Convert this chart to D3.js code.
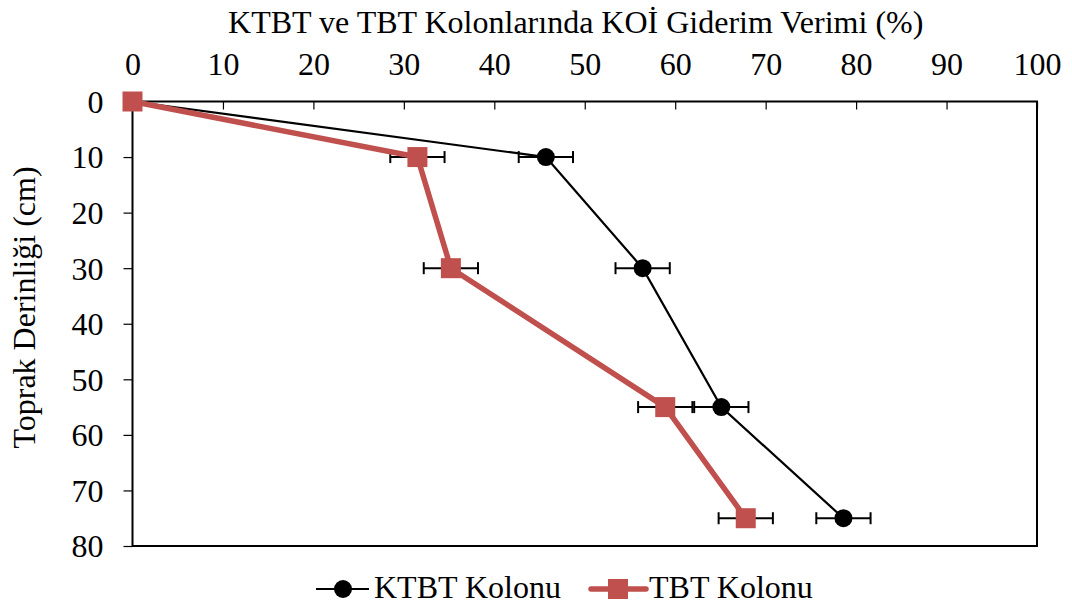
<!DOCTYPE html>
<html>
<head>
<meta charset="utf-8">
<script src="https://cdn.jsdelivr.net/npm/d3@7"></script>
<style>
  html, body { margin: 0; padding: 0; background: #fff; }
</style>
</head>
<body>
<svg id="chart" width="1072" height="608"></svg>
<script>
// Soil depth (cm) and COD removal efficiency (%) for the two columns
const depths = [0, 10, 30, 55, 75];
const ktbtValues = [0, 45.7, 56.4, 65.1, 78.6];
const tbtValues = [0, 31.5, 35.2, 58.9, 67.8];
const ktbtErrors = [0, 3, 3, 3, 3];
const tbtErrors = [0, 3, 3, 3, 3];
const xTicks = [0, 10, 20, 30, 40, 50, 60, 70, 80, 90, 100];
const yTicks = [0, 10, 20, 30, 40, 50, 60, 70, 80];
const seriesNames = ["KTBT Kolonu", "TBT Kolonu"];

const FONT = '"Liberation Serif"';
const FS = "32px";
// a hair of rotation keeps the glyphs rendered as outlines in the serif face
const TILT = 0.01;

const svg = d3.select("#chart");
const plotLeft = 132.5, plotRight = 1037, plotTop = 101.5, plotBottom = 546;

const x = d3.scaleLinear().domain([0, 100]).range([plotLeft, plotRight]);
const y = d3.scaleLinear().domain([0, 80]).range([plotTop, plotBottom]);

const red = "#C0504D";

function serif(sel) {
  return sel.style("font-family", FONT).style("font-size", FS).attr("fill", "#000");
}

// Plot frame
svg.append("rect")
  .attr("x", plotLeft).attr("y", plotTop)
  .attr("width", plotRight - plotLeft).attr("height", plotBottom - plotTop)
  .attr("fill", "none").attr("stroke", "#000").attr("stroke-width", 2);

// Top axis (efficiency)
const xAxis = svg.append("g")
  .attr("transform", `translate(0,${plotTop})`)
  .call(d3.axisTop(x).tickValues(xTicks).tickSize(-8).tickPadding(26.5));
xAxis.select(".domain").remove();
xAxis.selectAll("line").attr("stroke", "#000").attr("stroke-width", 1.2);
serif(xAxis.selectAll("text")).attr("transform", `rotate(${TILT})`);

// Left axis (depth)
const yAxis = svg.append("g")
  .attr("transform", `translate(${plotLeft},0)`)
  .call(d3.axisLeft(y).tickValues(yTicks).tickSize(9).tickPadding(20));
yAxis.select(".domain").remove();
yAxis.selectAll("line").attr("stroke", "#000").attr("stroke-width", 1.2);
serif(yAxis.selectAll("text")).attr("dy", "0.34em").attr("transform", `rotate(${TILT})`);

// Axis titles
serif(svg.append("text"))
  .attr("transform", `translate(575.7,33) rotate(${TILT})`)
  .attr("text-anchor", "middle")
  .text("KTBT ve TBT Kolonlarında KOİ Giderim Verimi (%)");

serif(svg.append("text"))
  .attr("transform", `translate(35,307.5) rotate(-90)`)
  .attr("text-anchor", "middle")
  .text("Toprak Derinliği (cm)");

const ktbt = depths.map((d, i) => ({ d, v: ktbtValues[i], e: ktbtErrors[i] }));
const tbt = depths.map((d, i) => ({ d, v: tbtValues[i], e: tbtErrors[i] }));

const line = d3.line().x(p => x(p.v)).y(p => y(p.d));

// Horizontal error bars
function errorBars(data) {
  const g = svg.append("g").attr("stroke", "#000").attr("stroke-width", 2);
  data.filter(p => p.e > 0).forEach(p => {
    const yy = y(p.d);
    g.append("line").attr("x1", x(p.v - p.e)).attr("x2", x(p.v + p.e)).attr("y1", yy).attr("y2", yy);
    g.append("line").attr("x1", x(p.v - p.e)).attr("x2", x(p.v - p.e)).attr("y1", yy - 6).attr("y2", yy + 6);
    g.append("line").attr("x1", x(p.v + p.e)).attr("x2", x(p.v + p.e)).attr("y1", yy - 6).attr("y2", yy + 6);
  });
}
errorBars(ktbt);
errorBars(tbt);

// KTBT series
svg.append("path").datum(ktbt).attr("d", line)
  .attr("fill", "none").attr("stroke", "#000").attr("stroke-width", 2.2);
svg.selectAll(".ktbt").data(ktbt).enter().append("circle")
  .attr("cx", p => x(p.v)).attr("cy", p => y(p.d)).attr("r", 9).attr("fill", "#000");

// TBT series
svg.append("path").datum(tbt).attr("d", line)
  .attr("fill", "none").attr("stroke", red).attr("stroke-width", 5.5).attr("stroke-linejoin", "round");
svg.selectAll(".tbt").data(tbt).enter().append("rect")
  .attr("x", p => x(p.v) - 10).attr("y", p => y(p.d) - 10)
  .attr("width", 20).attr("height", 20).attr("fill", red);

// Legend
const ly = 589;
const lg = svg.append("g");
lg.append("line").attr("x1", 316).attr("x2", 369).attr("y1", ly).attr("y2", ly)
  .attr("stroke", "#000").attr("stroke-width", 2.2);
lg.append("circle").attr("cx", 343).attr("cy", ly).attr("r", 9).attr("fill", "#000");
serif(lg.append("text"))
  .attr("transform", `translate(374,598) rotate(${TILT})`).text(seriesNames[0]);

lg.append("line").attr("x1", 591).attr("x2", 646).attr("y1", ly).attr("y2", ly)
  .attr("stroke", red).attr("stroke-width", 5.5).attr("stroke-linecap", "round");
lg.append("rect").attr("x", 608).attr("y", ly - 10).attr("width", 20).attr("height", 20).attr("fill", red);
serif(lg.append("text"))
  .attr("transform", `translate(649,598) rotate(${TILT})`).text(seriesNames[1]);
</script>
</body>
</html>
